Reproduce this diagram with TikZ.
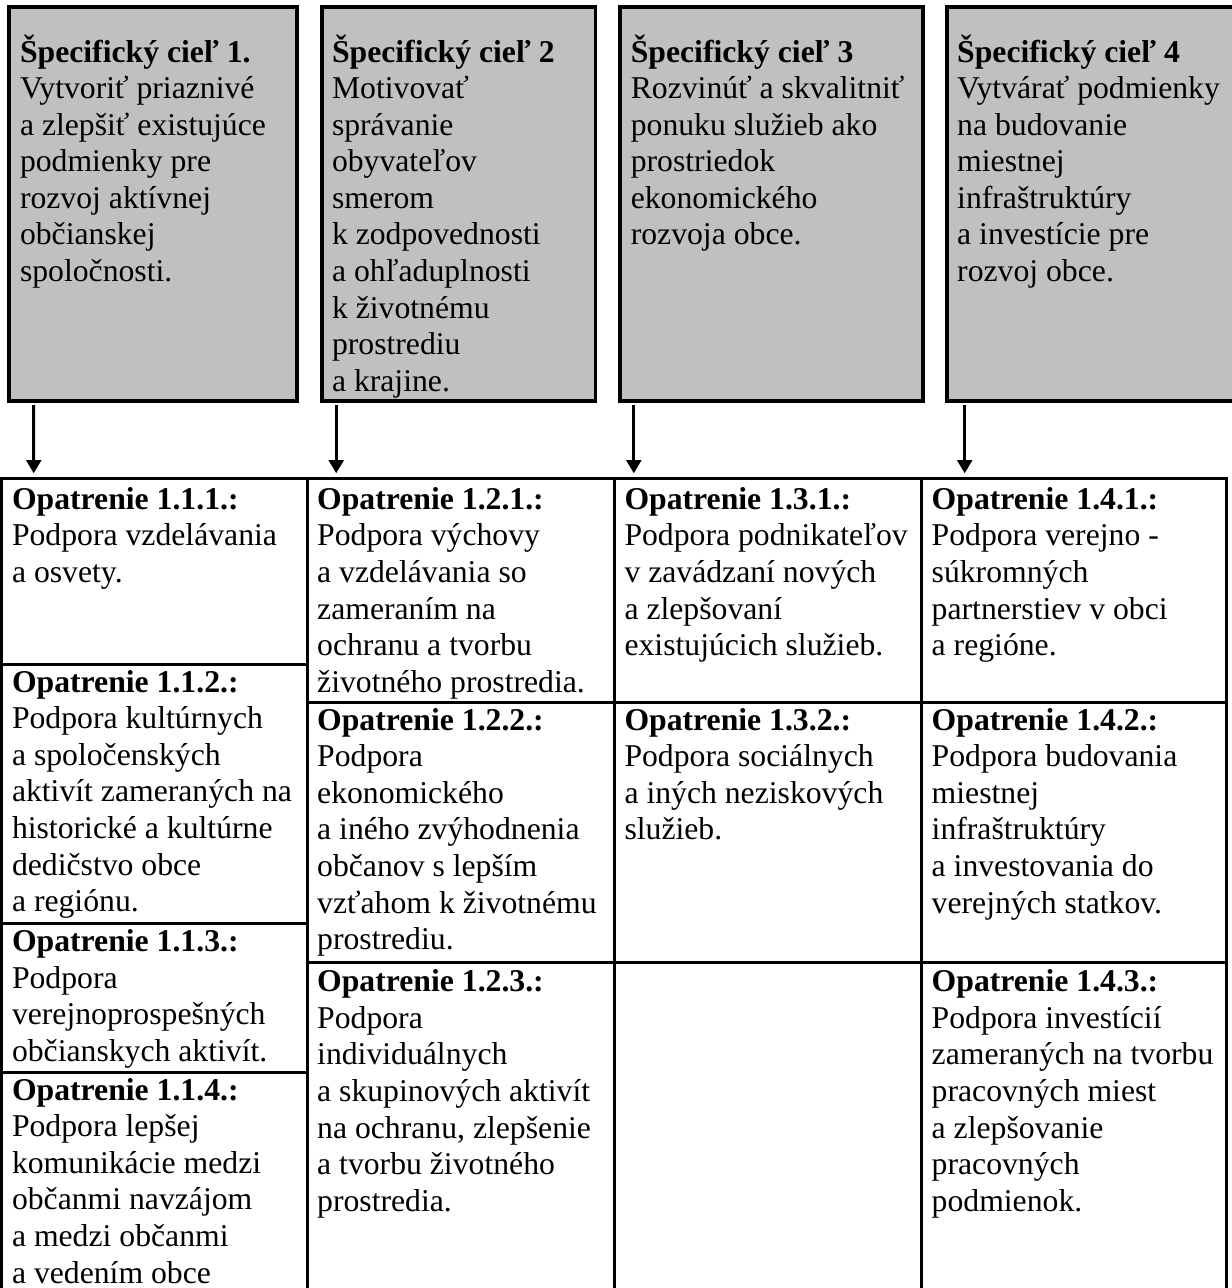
\documentclass[tikz,border=0pt]{standalone}
\usepackage{fontspec}
\setmainfont{Liberation Serif}
\usetikzlibrary{arrows.meta,calc,fit}
\definecolor{goalgray}{RGB}{192,192,192}
\newcommand{\tstrut}{\rule{0pt}{12pt}}
\begin{document}
\begin{tikzpicture}[x=0.3785pt,y=-0.3785pt,
  goalbox/.style={draw=black, line width=1.44pt, fill=goalgray, inner sep=0pt, outer sep=0pt, rectangle},
  cellbox/.style={draw=black, line width=1.14pt, inner sep=0pt, outer sep=0pt, rectangle},
  txt/.style={anchor=north west, inner sep=0pt, outer sep=0pt, align=left, font=\fontsize{12}{13.85}\selectfont},
  arr/.style={line width=1.1pt, -{Triangle[width=5.6pt,length=5pt]}}
]
\useasboundingbox (0,0) rectangle (1232,1288);
\clip (0,0) rectangle (1232,1288);

% goal boxes
\node[goalbox, fit={(9,7) (297,401)}] (g1) {};
\node[goalbox, fit={(322,7) (595.5,401)}] (g2) {};
\node[goalbox, fit={(620.3,7) (922.7,401)}] (g3) {};
\node[goalbox, fit={(946.7,7) (1250,401)}] (g4) {};

\node[txt] (g1t) at ($(g1.north west)+(11,23.3)$) {\tstrut\textbf{Špecifický cieľ 1.}\\Vytvoriť priaznivé\\a zlepšiť existujúce\\podmienky pre\\rozvoj aktívnej\\občianskej\\spoločnosti.};
\node[txt] (g2t) at ($(g2.north west)+(10,23.3)$) {\tstrut\textbf{Špecifický cieľ 2}\\Motivovať\\správanie\\obyvateľov\\smerom\\k zodpovednosti\\a ohľaduplnosti\\k životnému\\prostrediu\\a krajine.};
\node[txt] (g3t) at ($(g3.north west)+(10.5,23.3)$) {\tstrut\textbf{Špecifický cieľ 3}\\Rozvinúť a skvalitniť\\ponuku služieb ako\\prostriedok\\ekonomického\\rozvoja obce.};
\node[txt] (g4t) at ($(g4.north west)+(10.5,23.3)$) {\tstrut\textbf{Špecifický cieľ 4}\\Vytvárať podmienky\\na budovanie\\miestnej\\infraštruktúry\\a investície pre\\rozvoj obce.};

% table cells
\node[cellbox, fit={(1.5,478.3) (307.7,664)}] (c111) {};
\node[cellbox, fit={(1.5,664) (307.7,923)}] (c112) {};
\node[cellbox, fit={(1.5,923) (307.7,1072)}] (c113) {};
\node[cellbox, fit={(1.5,1072) (307.7,1310)}] (c114) {};

\node[cellbox, fit={(307.7,478.3) (614.5,702)}] (c121) {};
\node[cellbox, fit={(307.7,702) (614.5,962)}] (c122) {};
\node[cellbox, fit={(307.7,962) (614.5,1310)}] (c123) {};

\node[cellbox, fit={(614.5,478.3) (921.7,702)}] (c131) {};
\node[cellbox, fit={(614.5,702) (921.7,962)}] (c132) {};
\node[cellbox, fit={(614.5,962) (921.7,1310)}] (c133) {};

\node[cellbox, fit={(921.7,478.3) (1226.5,702)}] (c141) {};
\node[cellbox, fit={(921.7,702) (1226.5,962)}] (c142) {};
\node[cellbox, fit={(921.7,962) (1226.5,1310)}] (c143) {};

% cell texts
\node[txt] (t111) at ($(c111.north west)+(10.5,-0.7)$) {\tstrut\textbf{Opatrenie 1.1.1.:}\\Podpora vzdelávania\\a osvety.};
\node[txt] (t112) at ($(c112.north west)+(10.5,-3.6)$) {\tstrut\textbf{Opatrenie 1.1.2.:}\\Podpora kultúrnych\\a spoločenských\\aktivít zameraných na\\historické a kultúrne\\dedičstvo obce\\a regiónu.};
\node[txt] (t113) at ($(c113.north west)+(10.5,-3)$) {\tstrut\textbf{Opatrenie 1.1.3.:}\\Podpora\\verejnoprospešných\\občianskych aktivít.};
\node[txt] (t114) at ($(c114.north west)+(10.5,-3.5)$) {\tstrut\textbf{Opatrenie 1.1.4.:}\\Podpora lepšej\\komunikácie medzi\\občanmi navzájom\\a medzi občanmi\\a vedením obce};

\node[txt] (t121) at ($(c121.north west)+(9.5,-0.7)$) {\tstrut\textbf{Opatrenie 1.2.1.:}\\Podpora výchovy\\a vzdelávania so\\zameraním na\\ochranu a tvorbu\\životného prostredia.};
\node[txt] (t122) at ($(c122.north west)+(9.5,-3.5)$) {\tstrut\textbf{Opatrenie 1.2.2.:}\\Podpora\\ekonomického\\a iného zvýhodnenia\\občanov s lepším\\vzťahom k životnému\\prostrediu.};
\node[txt] (t123) at ($(c123.north west)+(9.5,-2)$) {\tstrut\textbf{Opatrenie 1.2.3.:}\\Podpora\\individuálnych\\a skupinových aktivít\\na ochranu, zlepšenie\\a tvorbu životného\\prostredia.};

\node[txt] (t131) at ($(c131.north west)+(10,-0.7)$) {\tstrut\textbf{Opatrenie 1.3.1.:}\\Podpora podnikateľov\\v zavádzaní nových\\a zlepšovaní\\existujúcich služieb.};
\node[txt] (t132) at ($(c132.north west)+(10,-3.5)$) {\tstrut\textbf{Opatrenie 1.3.2.:}\\Podpora sociálnych\\a iných neziskových\\služieb.};

\node[txt] (t141) at ($(c141.north west)+(10,-0.7)$) {\tstrut\textbf{Opatrenie 1.4.1.:}\\Podpora verejno -\\súkromných\\partnerstiev v obci\\a regióne.};
\node[txt] (t142) at ($(c142.north west)+(10,-3.5)$) {\tstrut\textbf{Opatrenie 1.4.2.:}\\Podpora budovania\\miestnej\\infraštruktúry\\a investovania do\\verejných statkov.};
\node[txt] (t143) at ($(c143.north west)+(10,-2)$) {\tstrut\textbf{Opatrenie 1.4.3.:}\\Podpora investícií\\zameraných na tvorbu\\pracovných miest\\a zlepšovanie\\pracovných\\podmienok.};

% arrows
\draw[arr] ($(g1.south west)+(24.7,4)$) -- ($(c111.north west)+(32.2,-5)$);
\draw[arr] ($(g2.south west)+(14.2,4)$) -- ($(c121.north west)+(28.5,-5)$);
\draw[arr] ($(g3.south west)+(13.5,4)$) -- ($(c131.north west)+(19.3,-5)$);
\draw[arr] ($(g4.south west)+(18,4)$) -- ($(c141.north west)+(43,-5)$);
\end{tikzpicture}
\end{document}
